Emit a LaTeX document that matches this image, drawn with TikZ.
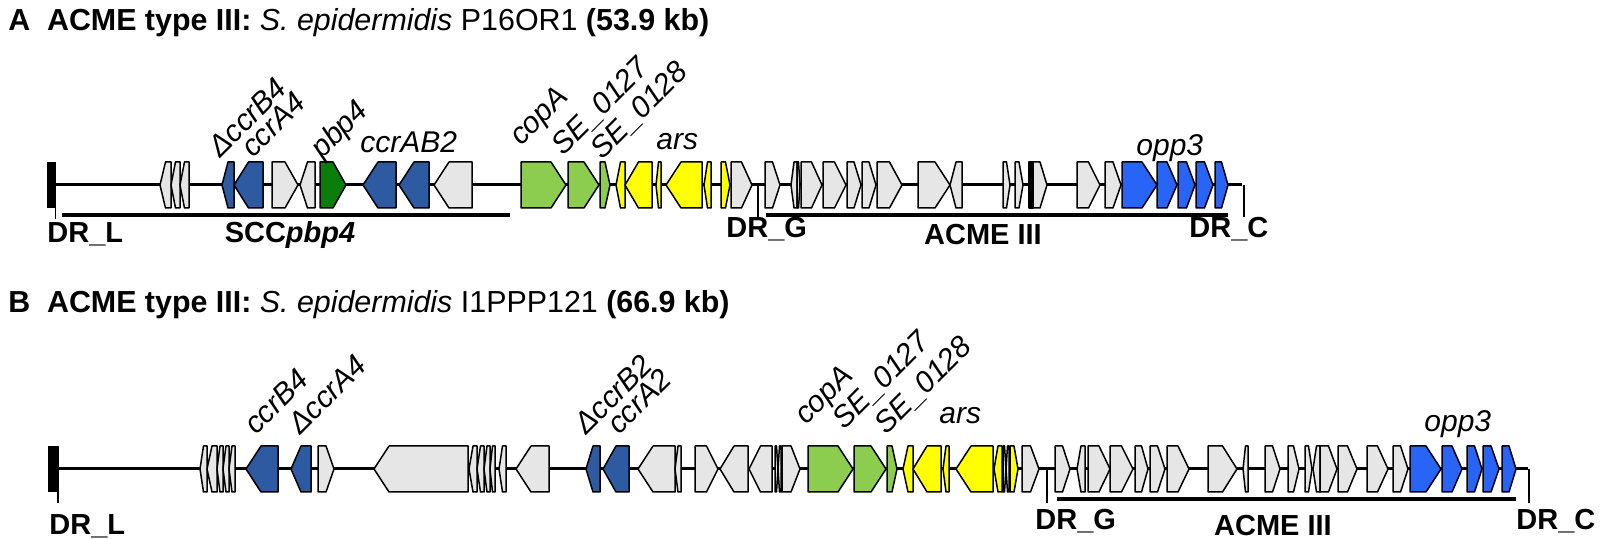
\documentclass[tikz,border=0pt]{standalone}
\usepackage{fontspec}
\setmainfont{Liberation Sans}
\definecolor{gfill}{RGB}{230,230,230}
\definecolor{ccrblue}{RGB}{45,90,160}
\definecolor{oppblue}{RGB}{40,100,245}
\definecolor{pbpgreen}{RGB}{10,125,10}
\definecolor{cgreen}{RGB}{140,205,80}
\definecolor{ayellow}{RGB}{255,255,0}
\def\gh{23}
\newcommand\gR[3]{\pgfmathsetmacro\hh{min(15,0.5*(#2-#1))}\pgfmathsetmacro\xb{#2-\hh}%
  \draw[gene,fill=#3] (#1,\ty-\gh) -- (\xb,\ty-\gh) -- (#2,\ty) -- (\xb,\ty+\gh) -- (#1,\ty+\gh) -- cycle;}
\newcommand\gL[3]{\pgfmathsetmacro\hh{min(15,0.5*(#2-#1))}\pgfmathsetmacro\xb{#1+\hh}%
  \draw[gene,fill=#3] (#2,\ty-\gh) -- (\xb,\ty-\gh) -- (#1,\ty) -- (\xb,\ty+\gh) -- (#2,\ty+\gh) -- cycle;}
\tikzset{
  gene/.style={draw=black,line width=0.75pt,line join=round},
  backbone/.style={line width=1.5pt},
  uline/.style={line width=2pt},
  tick/.style={line width=0.6pt},
  glab/.style={font=\fontsize{15}{15}\selectfont\itshape,inner sep=0pt},
  rlab/.style={glab,rotate=45,anchor=base west},
  drlab/.style={font=\fontsize{14.5}{14.5}\selectfont\bfseries,inner sep=0pt},
  ttl/.style={font=\fontsize{15.2}{15.2}\selectfont,inner sep=0pt,anchor=base west},
}
\begin{document}
\begin{tikzpicture}[x=0.5pt,y=-0.5pt]
\useasboundingbox (0,0) rectangle (1602,539);
%% ===== Track A =====
\node[ttl] (tA) at (8,31) {\textbf{A}\hspace{0.55em}\textbf{ACME type III:} \textit{S. epidermidis} P16OR1 \textbf{(53.9 kb)}};
\def\ty{185}
\coordinate (Astart) at (56,185);
\coordinate (Aend) at (1242,185);
\draw[backbone] (Astart) -- (Aend);
\fill (47,162) rectangle (56,208);
\draw[tick] (55.5,208) -- (55.5,219);
\gL{160}{171}{gfill}\gL{171}{180}{gfill}\gL{180}{189}{gfill}
\gL{222}{234}{ccrblue}\gL{234}{263}{ccrblue}
\gR{272}{298}{gfill}\gL{300}{315}{gfill}
\gR{320}{346}{pbpgreen}
\gL{363}{396}{ccrblue}\gL{399}{429}{ccrblue}
\gL{434}{472}{gfill}
\gR{521}{566}{cgreen}\gR{568}{599}{cgreen}\gR{600}{610}{cgreen}
\gL{616}{625}{ayellow}\gL{625}{652}{ayellow}\gL{656}{661}{ayellow}
\gL{666}{702}{ayellow}\gL{704}{711}{ayellow}\gR{721}{730}{ayellow}
\gR{731}{752}{gfill}
\gR{765}{780}{gfill}\gL{791}{797}{gfill}\gR{797}{800}{gfill}
\gR{801}{822}{gfill}\gR{823}{846}{gfill}\gR{847}{861}{gfill}\gR{862}{876}{gfill}
\gR{877}{902}{gfill}\gR{918}{950}{gfill}\gL{950}{962}{gfill}
\gR{1003}{1010}{gfill}\gR{1015}{1023}{gfill}
\draw[gene,fill=black] (1029,162) rectangle (1033,208);
\gR{1033}{1047}{gfill}
\gR{1077}{1100}{gfill}\gR{1105}{1121}{gfill}
\gR{1122}{1157}{oppblue}\gR{1157}{1177}{oppblue}\gR{1178}{1195}{oppblue}
\gR{1196}{1213}{oppblue}\gR{1215}{1228}{oppblue}
% ticks & underlines
\draw[tick] (758,185) -- (758,219);
\draw[tick] (1244,185) -- (1244,217);
\draw[uline] (62,215) -- (510,215);
\draw[uline] (766,215) -- (1228,215);
% labels
\node[drlab,anchor=base west] (drlA) at (47,243) {DR\_L};
\node[drlab,anchor=base] (sccA) at (290,243) {SCC\textit{pbp4}};
\node[drlab,anchor=base west] (drgA) at (726,238) {DR\_G};
\node[drlab,anchor=base] (acmeA) at (983,245) {ACME III};
\node[drlab,anchor=base west] (drcA) at (1189,238) {DR\_C};
\node[rlab] (a1) at (220,159) {ΔccrB4};
\node[rlab] (a2) at (253,159) {ccrA4};
\node[rlab] (a3) at (322,160) {pbp4};
\node[glab,anchor=base west] (a4) at (360,153) {ccrAB2};
\node[rlab] (a5) at (521,147) {copA};
\node[rlab] (a6) at (563,157) {SE\_0127};
\node[rlab] (a7) at (602,161) {SE\_0128};
\node[glab,anchor=base west] (a8) at (656,150) {ars};
\node[glab,anchor=base west] (a9) at (1136,156) {opp3};
%% ===== Track B =====
\node[ttl] (tB) at (8,313) {\textbf{B}\hspace{0.55em}\textbf{ACME type III:} \textit{S. epidermidis} I1PPP121 \textbf{(66.9 kb)}};
\def\ty{469}
\coordinate (Bstart) at (59,469);
\coordinate (Bend) at (1528,469);
\draw[backbone] (Bstart) -- (Bend);
\fill (48,446) rectangle (59,492);
\draw[tick] (58,492) -- (58,503);
\gL{200}{207}{gfill}\gL{207}{217}{gfill}\gL{217}{223}{gfill}\gL{223}{229}{gfill}\gL{229}{235}{gfill}
\gL{246}{278}{ccrblue}\gL{291}{311}{ccrblue}
\gR{318}{334}{gfill}
\gL{374}{468}{gfill}
\gL{469}{477}{gfill}\gL{477}{484}{gfill}\gL{484}{490}{gfill}\gL{490}{495}{gfill}\gL{499}{506}{gfill}
\gL{516}{549}{gfill}
\gL{586}{600}{ccrblue}\gL{603}{629}{ccrblue}
\gL{638}{675}{gfill}\gL{675}{681}{gfill}
\gR{695}{718}{gfill}\gL{720}{748}{gfill}\gL{749}{772}{gfill}
\gR{775}{778}{gfill}\gL{778}{781}{gfill}\gR{782}{800}{gfill}
\gR{808}{853}{cgreen}\gR{854}{886}{cgreen}\gR{887}{897}{cgreen}
\gL{903}{913}{ayellow}\gL{913}{941}{ayellow}\gL{943}{949}{ayellow}
\gL{956}{993}{ayellow}\gL{994}{1002}{ayellow}
\gR{1003}{1006}{gfill}\gL{1006}{1009}{gfill}
\gR{1010}{1018}{ayellow}
\gR{1022}{1039}{gfill}
\gR{1055}{1070}{gfill}\gL{1077}{1085}{gfill}
\gR{1088}{1110}{gfill}\gR{1110}{1133}{gfill}\gR{1135}{1148}{gfill}\gR{1150}{1165}{gfill}\gR{1167}{1189}{gfill}
\gR{1208}{1237}{gfill}\gL{1243}{1248}{gfill}
\gR{1265}{1280}{gfill}\gR{1288}{1299}{gfill}\gR{1305}{1312}{gfill}\gL{1313}{1320}{gfill}
\gR{1320}{1337}{gfill}\gR{1338}{1357}{gfill}\gR{1367}{1388}{gfill}\gR{1393}{1408}{gfill}
\gR{1410}{1441}{oppblue}\gR{1442}{1462}{oppblue}\gR{1467}{1482}{oppblue}
\gR{1483}{1499}{oppblue}\gR{1502}{1516}{oppblue}
\draw[tick] (1047,469) -- (1047,503);
\draw[tick] (1529,469) -- (1529,503);
\draw[uline] (1057,499) -- (1516,499);
\node[drlab,anchor=base west] (drlB) at (49,535) {DR\_L};
\node[drlab,anchor=base west] (drgB) at (1035,530) {DR\_G};
\node[drlab,anchor=base] (acmeB) at (1273,536) {ACME III};
\node[drlab,anchor=base west] (drcB) at (1516,530) {DR\_C};
\node[rlab] (b1) at (256,436) {ccrB4};
\node[rlab] (b2) at (300,436) {ΔccrA4};
\node[rlab] (b3) at (586,436) {ΔccrB2};
\node[rlab] (b4) at (619,436) {ccrA2};
\node[rlab] (b5) at (806,426) {copA};
\node[rlab] (b6) at (844,431) {SE\_0127};
\node[rlab] (b7) at (886,436) {SE\_0128};
\node[glab,anchor=base west] (b8) at (939,424) {ars};
\node[glab,anchor=base west] (b9) at (1424,432) {opp3};
\end{tikzpicture}
\end{document}
